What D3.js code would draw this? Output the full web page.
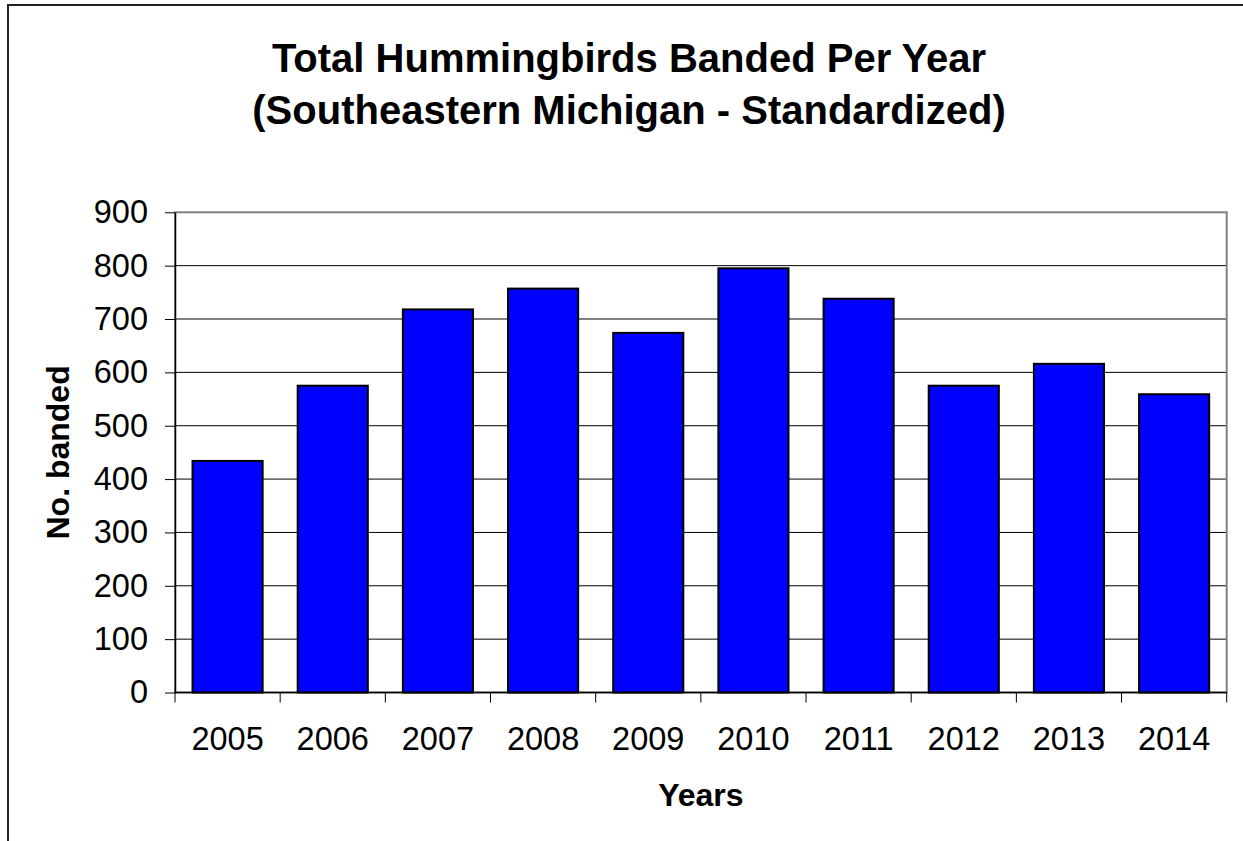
<!DOCTYPE html>
<html>
<head>
<meta charset="utf-8">
<script src="https://cdn.jsdelivr.net/npm/d3@7"></script>
<style>
  body { margin: 0; background: #fff; }
  svg { display: block; font-family: "Liberation Sans", Arial, sans-serif; }
</style>
</head>
<body>
<svg id="chart" width="1243" height="841"></svg>
<script>
// data
var years = ["2005", "2006", "2007", "2008", "2009", "2010", "2011", "2012", "2013", "2014"];
var banded = [434, 575, 718, 757, 674, 795, 738, 575, 616, 559];
var yTicks = [0, 100, 200, 300, 400, 500, 600, 700, 800, 900];

(function() {
var svg = d3.select("#chart");
var plotL = 175, plotR = 1226.7, plotT = 212.3, plotB = 692.5;

// chart frame (runs off the right and bottom edge)
svg.append("rect")
    .attr("x", 8).attr("y", 5)
    .attr("width", 1400).attr("height", 1000)
    .attr("fill", "none").attr("stroke", "#222").attr("stroke-width", 2);

var x = d3.scaleBand().domain(years).range([plotL, plotR]).padding(0);
var y = d3.scaleLinear().domain([0, 900]).range([plotB, plotT]);

// gridlines
svg.append("g").selectAll("line")
    .data(yTicks.slice(1, -1))
    .enter().append("line")
    .attr("x1", plotL).attr("x2", plotR)
    .attr("y1", function(d) { return y(d); })
    .attr("y2", function(d) { return y(d); })
    .attr("stroke", "#000").attr("stroke-width", 1);

// plot area border
svg.append("rect")
    .attr("x", plotL).attr("y", plotT)
    .attr("width", plotR - plotL).attr("height", plotB - plotT)
    .attr("fill", "none").attr("stroke", "#808080").attr("stroke-width", 2);

// bars
var bw = x.bandwidth() / 1.5;
svg.append("g").selectAll("rect")
    .data(banded)
    .enter().append("rect")
    .attr("x", function(d, i) { return x(years[i]) + (x.bandwidth() - bw) / 2; })
    .attr("y", function(d) { return y(d); })
    .attr("width", bw)
    .attr("height", function(d) { return plotB - y(d); })
    .attr("fill", "#0000ff")
    .attr("stroke", "#000").attr("stroke-width", 2);

// y axis
var yAxis = svg.append("g")
    .attr("transform", "translate(" + plotL + ",0)")
    .call(d3.axisLeft(y).tickValues(yTicks).tickSize(10).tickPadding(17).tickSizeOuter(0));
yAxis.select(".domain").attr("stroke", "#000").attr("stroke-width", 1.5);
yAxis.selectAll(".tick line").attr("stroke", "#000");
yAxis.selectAll(".tick text")
    .attr("font-size", 32.5).attr("fill", "#000")
    .attr("font-family", "Liberation Sans, Arial, sans-serif");

// x axis: ticks between the categories
var xAxis = svg.append("g").attr("transform", "translate(0," + plotB + ")");
xAxis.append("line")
    .attr("x1", plotL).attr("x2", plotR)
    .attr("stroke", "#000").attr("stroke-width", 1.5);
xAxis.selectAll(".sep")
    .data(years.concat(["end"]))
    .enter().append("line")
    .attr("class", "sep")
    .attr("x1", function(d, i) { return i < years.length ? x(d) : plotR; })
    .attr("x2", function(d, i) { return i < years.length ? x(d) : plotR; })
    .attr("y1", 0).attr("y2", 10)
    .attr("stroke", "#000");
xAxis.selectAll(".lbl")
    .data(years)
    .enter().append("text")
    .attr("class", "lbl")
    .attr("x", function(d) { return x(d) + x.bandwidth() / 2; })
    .attr("y", 57.5)
    .attr("text-anchor", "middle")
    .attr("font-size", 32.5)
    .text(function(d) { return d; });

// titles
svg.append("text")
    .attr("x", 629).attr("y", 71.7)
    .attr("text-anchor", "middle")
    .attr("font-size", 40).attr("font-weight", "bold")
    .text("Total Hummingbirds Banded Per Year");
svg.append("text")
    .attr("x", 629).attr("y", 124)
    .attr("text-anchor", "middle")
    .attr("font-size", 40).attr("font-weight", "bold")
    .text("(Southeastern Michigan - Standardized)");

svg.append("text")
    .attr("x", (plotL + plotR) / 2).attr("y", 805.7)
    .attr("text-anchor", "middle")
    .attr("font-size", 32).attr("font-weight", "bold")
    .text("Years");

svg.append("text")
    .attr("transform", "translate(69," + ((plotT + plotB) / 2) + ") rotate(-90)")
    .attr("text-anchor", "middle")
    .attr("font-size", 32).attr("font-weight", "bold")
    .text("No. banded");
})();
</script>
</body>
</html>
